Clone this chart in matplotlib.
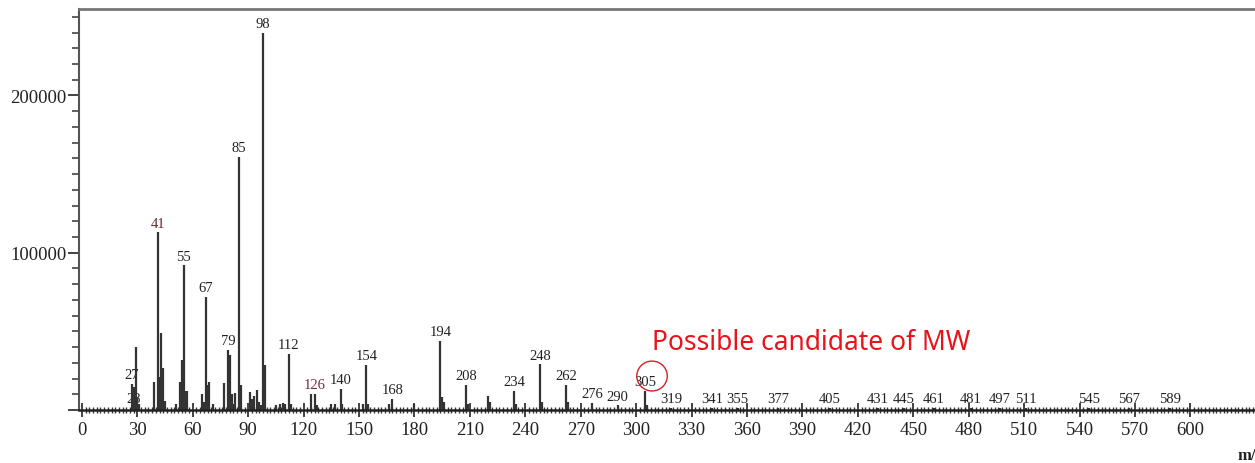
import matplotlib
matplotlib.use("Agg")
import matplotlib.pyplot as plt
from matplotlib.ticker import MultipleLocator, FixedLocator
from matplotlib.patches import Ellipse

# peak list (m/z, intensity)
mz = [27, 28, 29, 30, 31, 39, 41, 42, 43, 44, 45, 51, 53, 54, 55, 56, 57,
      65, 66, 67, 68, 69, 71, 77, 79, 80, 81, 82, 83, 85, 86, 91, 92, 93,
      95, 96, 97, 98, 99, 105, 107, 109, 110, 112, 113, 124, 126, 127, 135,
      137, 140, 141, 152, 154, 155, 166, 168, 180, 194, 195, 196, 208, 209,
      220, 221, 234, 235, 248, 249, 262, 263, 276, 290, 305, 306, 319, 341,
      355, 377, 405, 431, 445, 461, 481, 497, 511, 545, 567, 589]
intensity = [16500, 14500, 40000, 8000, 4000, 18000, 113000, 21000, 49000,
             27000, 6000, 4000, 18000, 32000, 92000, 12000, 12000,
             10000, 5000, 72000, 16000, 18000, 4000, 17000, 38000, 35000,
             10000, 4000, 11000, 161000, 16000, 11500, 7000, 9000,
             13000, 5000, 3000, 240000, 28500, 3000, 4000, 4500, 3500, 35500,
             3500, 10000, 10000, 3000, 3500,
             4000, 13300, 3500, 4000, 28500, 3500, 3500, 7000, 4000, 44000, 8000,
             5000, 16000, 3500,
             9000, 5000, 12000, 3500, 29000, 5000, 16000, 5000, 4500, 3000, 12000,
             3000, 1500, 1500,
             1500, 1500, 1500, 1500, 1500, 1500, 1500, 1500, 1500, 1500, 1500, 1500]

# labelled peaks
label_mz = [27, 28, 41, 55, 67, 79, 85, 98, 112, 126, 140, 154, 168, 194, 208,
            234, 248, 262, 276, 290, 305, 319, 341, 355, 377, 405, 431, 445,
            461, 481, 497, 511, 545, 567, 589]
label_color = {41: '#6b2a2a', 126: '#7a2a3a'}
label_height = {28: 1500}   # label drawn low, behind the cluster of bars

plt.rcParams['font.family'] = ['Liberation Serif', 'DejaVu Serif']

fig = plt.figure(figsize=(12.55, 4.64), dpi=100)
ax = fig.add_axes([79 / 1255, 53 / 464, 1 - 79 / 1255, (411 - 10) / 464])

peak = dict(zip(mz, intensity))
for m in label_mz:
    y = label_height.get(m, peak[m])
    ax.annotate(str(m), (m, y), xytext=(0, 2), textcoords='offset points',
                ha='center', va='bottom', fontsize=10.5, zorder=1,
                color=label_color.get(m, '#222222'))

ax.vlines(mz, 0, intensity, color='#333333', linewidth=1.6, zorder=2)

ax.set_xlim(-1.6, 635)
ax.set_ylim(0, 255000)

ax.xaxis.set_major_locator(FixedLocator(range(0, 601, 30)))
ax.xaxis.set_minor_locator(MultipleLocator(2))
ax.yaxis.set_major_locator(MultipleLocator(100000))
ax.yaxis.set_minor_locator(MultipleLocator(10000))
ax.tick_params(axis='x', which='major', direction='inout', length=10, width=1.2,
               labelsize=13.5, pad=3, colors='#222222')
ax.tick_params(axis='x', which='minor', direction='inout', length=5, width=1.0,
               colors='#333333')
ax.tick_params(axis='y', which='major', direction='out', length=8, width=1.2,
               labelsize=13.5, pad=1, colors='#222222')
ax.tick_params(axis='y', which='minor', direction='out', length=5, width=1.2,
               colors='#444444')
ax.yaxis.set_major_formatter(plt.FuncFormatter(lambda v, p: '' if v == 0 else f'{int(v)}'))

ax.spines['right'].set_visible(False)
ax.spines['top'].set_color('#777777')
ax.spines['top'].set_linewidth(2)
ax.spines['left'].set_color('#555555')
ax.spines['left'].set_linewidth(1.5)
ax.spines['bottom'].set_color('#222222')
ax.spines['bottom'].set_linewidth(1.8)

ax.text(308.5, 43000, 'Possible candidate of MW', color='#e8141c', fontsize=19,
        family=['Noto Sans', 'DejaVu Sans'], ha='left', va='center')
ax.add_patch(Ellipse((308.6, 21600), 16.5, 19000, fill=False,
                     edgecolor='#d42020', linewidth=1.0))

fig.text(1238 / 1255, 0, 'm/z', fontsize=12, fontweight='bold',
         color='#222222', ha='left', va='bottom')

fig.savefig('out.png', dpi=100)
